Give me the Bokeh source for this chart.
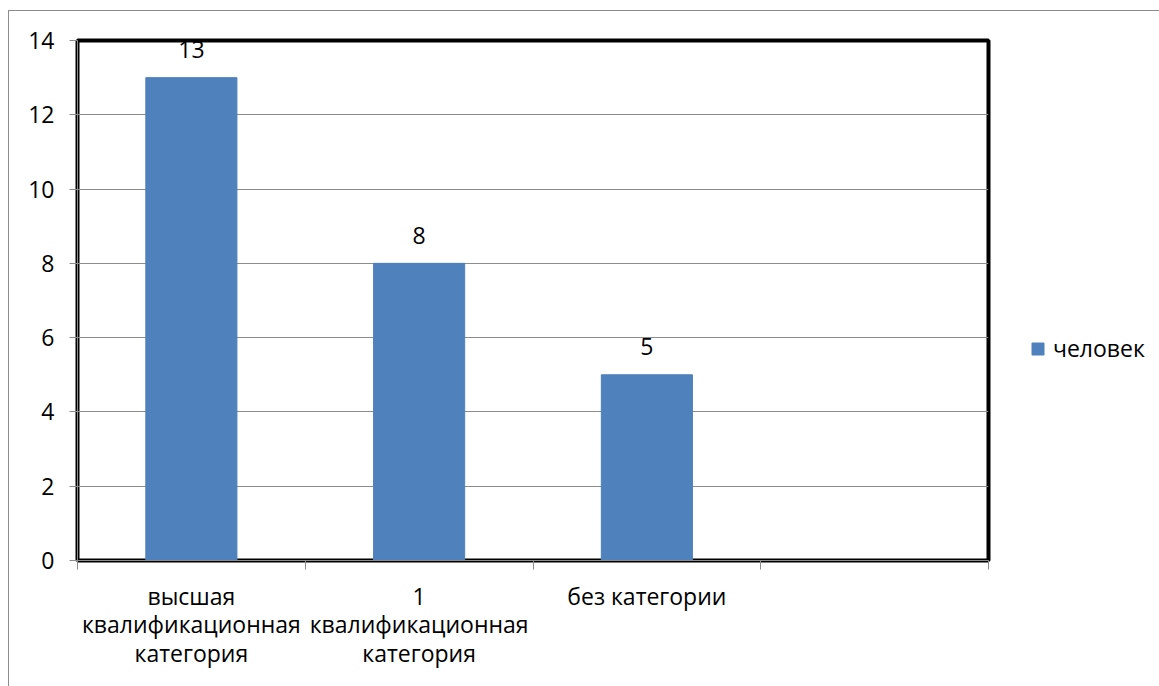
import numpy as np
from bokeh.plotting import figure
from bokeh.models import ColumnDataSource, FixedTicker, Legend, LegendItem, Range1d
from bokeh.core.properties import value
from bokeh.embed import file_html
from bokeh.resources import INLINE

# ---- data ----
categories = ["высшая\nквалификационная\nкатегория",
              "1\nквалификационная\nкатегория",
              "без категории",
              ""]
values = [13, 8, 5]
series_name = "человек"
y_ticks = [0, 2, 4, 6, 8, 10, 12, 14]

FONT = "Open Sans"
FS = "23px"
BLUE = "#4F81BD"
GRID = "#8c8c8c"

x_pos = np.arange(len(values)) + 0.5
src = ColumnDataSource(dict(x=x_pos, top=values, label=[str(v) for v in values]))

p = figure(frame_width=911, frame_height=520,
           x_range=Range1d(0, len(categories)), y_range=Range1d(0, max(y_ticks)),
           output_backend="svg", toolbar_location=None,
           min_border_left=68, min_border_right=171,
           min_border_top=29, min_border_bottom=126)
p.styles = {"border-top": "1px solid #8c8c8c", "border-left": "1px solid #8c8c8c",
            "margin-top": "10px", "margin-left": "8px"}

p.outline_line_color = "black"
p.outline_line_width = 4
p.background_fill_color = "white"
p.border_fill_color = "white"

bars = p.vbar(x="x", top="top", width=0.4, source=src, fill_color=BLUE,
              line_color=BLUE)

p.text(x="x", y="top", text="label", source=src, text_align="center",
       text_baseline="alphabetic", y_offset=-28, text_font=value(FONT),
       text_font_size=FS, text_color="black")

# grid
p.xgrid.visible = False
p.ygrid.ticker = FixedTicker(ticks=y_ticks)
p.ygrid.grid_line_color = GRID
p.ygrid.grid_line_width = 1

# y axis
p.yaxis.ticker = FixedTicker(ticks=y_ticks)
p.yaxis.axis_line_color = GRID
p.yaxis.major_tick_line_color = GRID
p.yaxis.major_tick_out = 8
p.yaxis.major_tick_in = 0
p.yaxis.minor_tick_line_color = None
p.yaxis.major_label_text_font = FONT
p.yaxis.major_label_text_font_size = FS
p.yaxis.major_label_text_color = "black"
p.yaxis.major_label_standoff = 15

# x axis: labels at category centers, tick marks at category boundaries
bounds = list(range(len(categories) + 1))
p.xaxis.ticker = FixedTicker(ticks=[i + 0.5 for i in range(len(categories))],
                             minor_ticks=bounds)
p.xaxis.major_label_overrides = {i + 0.5: c for i, c in enumerate(categories)}
p.xaxis.axis_line_color = GRID
p.xaxis.major_tick_line_color = None
p.xaxis.major_tick_out = 0
p.xaxis.minor_tick_line_color = GRID
p.xaxis.minor_tick_out = 9
p.xaxis.minor_tick_in = 0
p.xaxis.major_label_text_font = FONT
p.xaxis.major_label_text_font_size = FS
p.xaxis.major_label_text_color = "black"
p.xaxis.major_label_text_line_height = 0.9
p.xaxis.major_label_standoff = 10

legend = Legend(items=[LegendItem(label=series_name, renderers=[bars])],
                location=(42, 196))
legend.border_line_color = None
legend.background_fill_alpha = 0
legend.padding = 0
legend.margin = 0
legend.glyph_width = 15
legend.glyph_height = 15
legend.label_standoff = 8
legend.label_text_font = FONT
legend.label_text_font_size = FS
legend.label_text_color = "black"
p.add_layout(legend, "right")

open("out.html", "w").write(file_html(p, INLINE))
